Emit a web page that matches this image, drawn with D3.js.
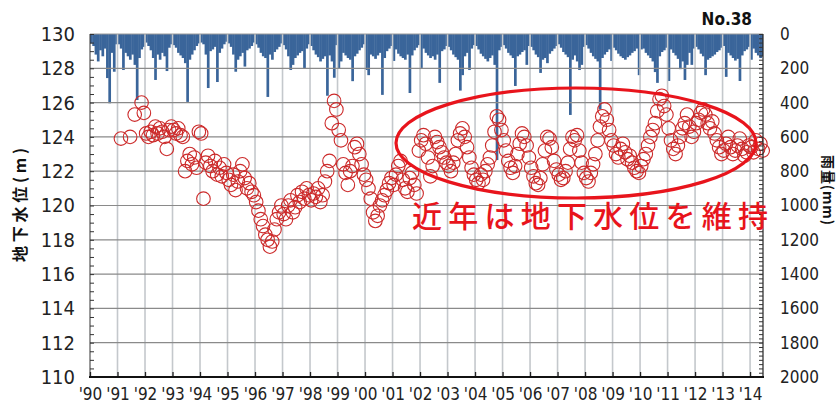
<!DOCTYPE html>
<html><head><meta charset="utf-8">
<script src="https://cdn.jsdelivr.net/npm/d3@7"></script>
<style>body{margin:0;background:#fff}svg{display:block}</style>
</head><body><svg id="c" width="839" height="409"></svg>
<script>
// ---- data ----
const yearLabels = ["'90","'91","'92","'93","'94","'95","'96","'97","'98","'99","'00","'01","'02","'03","'04","'05","'06","'07","'08","'09","'10","'11","'12","'13","'14"];
const levelTicks = [110,112,114,116,118,120,122,124,126,128,130];
const rainTicks = [0,200,400,600,800,1000,1200,1400,1600,1800,2000];

// monthly rainfall (mm), Jan..Dec
const rain1990 = [55,70,120,160,95,130,85,257,404,110,220,60];
const rain1991 = [60,85,210,110,130,150,120,180,385,140,90,75];
const rain1992 = [50,70,95,140,268,120,150,110,130,216,80,60];
const rain1993 = [65,80,110,125,140,170,396,150,120,95,70,55];
const rain1994 = [50,60,120,315,100,90,75,280,110,85,60,45];
const rain1995 = [55,75,120,220,150,130,110,190,95,85,70,50];
const rain1996 = [60,80,110,130,140,367,120,150,105,90,75,55];
const rain1997 = [65,90,130,210,180,140,125,110,100,200,85,60];
const rain1998 = [70,95,120,135,160,145,130,360,125,160,255,65];
const rain1999 = [200,160,110,125,140,150,275,130,115,95,80,60];
const rain2000 = [210,240,120,130,145,125,110,355,140,100,85,70];
const rain2001 = [157,90,115,130,140,150,120,344,125,95,80,65];
const rain2002 = [198,85,110,125,140,130,150,120,285,100,90,70];
const rain2003 = [75,95,120,135,150,330,240,130,110,210,85,65];
const rain2004 = [70,90,115,130,145,160,140,125,180,735,95,75];
const rain2005 = [65,85,110,125,140,303,130,120,105,95,180,70];
const rain2006 = [75,95,120,135,227,150,140,170,115,100,85,70];
const rain2007 = [60,80,105,120,135,472,150,125,160,210,180,75];
const rain2008 = [65,85,110,130,145,160,440,140,120,105,90,157];
const rain2009 = [80,95,115,130,140,150,135,125,110,100,85,240];
const rain2010 = [90,85,110,125,140,160,222,285,130,105,95,80];
const rain2011 = [274,90,110,125,145,205,160,268,180,110,180,85];
const rain2012 = [75,90,115,130,240,150,140,130,120,105,95,80];
const rain2013 = [70,250,110,125,140,155,145,274,125,100,90,75];
const rain2014 = [150,85,110,125,140,130];

// monthly groundwater level (m), Jan..Dec, null = no reading
const level1990 = [null,null,null,null,null,null,null,null,null,null,null,null];
const level1991 = [null,123.9,null,null,null,124.0,null,125.3,null,null,126.0,125.4];
const level1992 = [124.2,124.0,124.3,124.1,124.6,124.2,124.5,124.3,124.0,123.3,124.4,124.6];
const level1993 = [124.4,124.2,124.5,124.1,124.0,122.0,122.6,123.0,122.4,122.8,122.2,124.3];
const level1994 = [124.2,120.4,122.5,122.9,122.3,122.0,122.6,121.8,122.2,121.7,122.4,121.9];
const level1995 = [121.5,121.2,121.8,120.9,121.4,122.0,122.4,121.6,121.0,121.3,120.8,120.6];
const level1996 = [120.2,119.7,119.2,118.8,118.3,118.0,117.6,117.9,118.6,119.2,119.6,120.0];
const level1997 = [119.5,119.2,120.0,120.3,119.6,119.9,120.6,120.2,120.8,120.4,121.0,120.6];
const level1998 = [120.3,120.7,120.5,121.0,120.2,120.6,121.4,122.0,122.6,124.8,126.1,125.6];
const level1999 = [124.4,123.8,122.4,121.9,121.2,122.0,122.3,123.4,123.6,123.0,122.4,121.8];
const level2000 = [121.5,121.0,120.4,119.6,119.1,119.4,120.0,120.3,120.6,120.9,121.3,121.6];
const level2001 = [121.2,121.8,122.3,122.6,121.5,121.0,120.8,121.6,121.9,121.2,120.7,123.2];
const level2002 = [123.8,124.1,123.6,122.8,121.7,122.3,124.0,123.7,123.4,123.1,122.8,122.5];
const level2003 = [122.3,122.0,122.5,123.0,123.8,124.2,124.5,124.0,123.4,122.8,122.2,121.8];
const level2004 = [121.5,121.3,121.8,121.5,122.0,122.4,122.8,123.5,124.3,125.2,125.0,124.4];
const level2005 = [123.8,123.2,122.6,122.2,121.9,122.3,123.0,123.6,124.2,124.0,123.5,122.8];
const level2006 = [122.2,121.7,121.3,121.2,121.6,122.4,123.2,124.0,123.9,123.4,122.6,122.1];
const level2007 = [121.8,121.5,121.6,122.0,122.5,123.3,124.0,123.8,124.1,123.2,122.5,121.9];
const level2008 = [121.6,121.4,121.9,122.4,123.0,123.8,124.6,125.2,125.6,125.0,124.4,123.8];
const level2009 = [123.5,123.0,122.8,123.3,123.6,123.1,122.7,122.9,122.5,122.2,122.0,121.9];
const level2010 = [122.3,122.7,123.0,123.5,124.0,124.4,124.8,125.5,126.2,126.4,125.8,125.3];
const level2011 = [124.5,123.8,123.3,123.0,123.5,124.0,124.5,124.8,125.3,124.6,124.0,124.3];
const level2012 = [124.8,125.0,125.4,125.6,125.3,124.8,124.5,124.9,124.2,123.8,123.4,123.0];
const level2013 = [123.2,123.6,124.0,123.4,123.0,123.2,123.5,123.9,123.3,122.9,123.1,123.5];
const level2014 = [123.4,123.1,123.8,123.3,123.6,123.2];

const stationLabel = "No.38";
const leftTitle = "地下水位(m)";
const rightTitle = "雨量(mm)";
const noteText = "近年は地下水位を維持";

// ---- build tables ----
const rainYears = [rain1990,rain1991,rain1992,rain1993,rain1994,rain1995,rain1996,rain1997,rain1998,rain1999,rain2000,rain2001,rain2002,rain2003,rain2004,rain2005,rain2006,rain2007,rain2008,rain2009,rain2010,rain2011,rain2012,rain2013,rain2014];
const levelYears = [level1990,level1991,level1992,level1993,level1994,level1995,level1996,level1997,level1998,level1999,level2000,level2001,level2002,level2003,level2004,level2005,level2006,level2007,level2008,level2009,level2010,level2011,level2012,level2013,level2014];
const rain = [], level = [];
rainYears.forEach((arr,i)=>arr.forEach((v,m)=>rain.push({t:1990+i+m/12, v})));
levelYears.forEach((arr,i)=>arr.forEach((v,m)=>{ if(v!=null) level.push({t:1990+i+(m+0.5)/12, v}); }));

// ---- layout ----
const L=90, R=763, T=34, B=377;
const svg = d3.select("#c");
const x = d3.scaleLinear().domain([1990, 2014.47]).range([L, R]);
const yL = d3.scaleLinear().domain([110,130]).range([B, T]);
const yR = d3.scaleLinear().domain([0,2000]).range([T, B]);
const narrow = "'Liberation Sans Narrow','Arial Narrow','DejaVu Sans Condensed',sans-serif";

svg.append("defs").append("clipPath").attr("id","pc")
  .append("rect").attr("x",L).attr("y",T).attr("width",R-L).attr("height",B-T);

// rain bars
const bw = x(1990+1/12)-x(1990);
svg.append("g").attr("clip-path","url(#pc)").selectAll("rect").data(rain).join("rect")
  .attr("x",d=>x(d.t)).attr("y",yR(0)).attr("width",bw+0.4)
  .attr("height",d=>yR(d.v)-yR(0)).attr("fill","#3a659a");

// grid
const grid = svg.append("g");
grid.selectAll("line.v").data(d3.range(1991,2015)).join("line")
  .attr("x1",d=>x(d)).attr("x2",d=>x(d)).attr("y1",T).attr("y2",B)
  .attr("stroke","#c4c8cc").attr("stroke-width",1.6);
grid.selectAll("line.h").data(levelTicks.slice(1,-1)).join("line")
  .attr("x1",L).attr("x2",R).attr("y1",d=>yL(d)).attr("y2",d=>yL(d))
  .attr("stroke","#8a8a8a").attr("stroke-width",1.2);

// level circles
svg.append("g").selectAll("circle").data(level).join("circle")
  .attr("cx",d=>x(d.t)).attr("cy",d=>yL(d.v)).attr("r",6.8)
  .attr("fill","none").attr("stroke","#cc2a2a").attr("stroke-width",1.1);

// frame
svg.append("line").attr("x1",L).attr("x2",R).attr("y1",T).attr("y2",T).attr("stroke","#9a9a9a");
svg.append("line").attr("x1",L).attr("x2",L).attr("y1",T).attr("y2",B).attr("stroke","#333").attr("stroke-width",1);
svg.append("line").attr("x1",R).attr("x2",R).attr("y1",T).attr("y2",B).attr("stroke","#222").attr("stroke-width",1.2);

// left minor ticks
svg.append("g").attr("transform",`translate(${L},0)`)
  .call(d3.axisRight(yL).tickValues(d3.range(110,130.01,0.5)).tickSize(4).tickFormat(""))
  .call(g=>{g.select(".domain").remove(); g.selectAll("line").attr("stroke","#333");});
// right minor ticks
svg.append("g").attr("transform",`translate(${R},0)`)
  .call(d3.axisLeft(yR).tickValues(d3.range(0,2001,25)).tickSize(4).tickFormat(""))
  .call(g=>{g.select(".domain").remove(); g.selectAll("line").attr("stroke","#333");});

// left labels
svg.append("g").attr("transform",`translate(${L-15},0)`)
  .call(d3.axisLeft(yL).tickValues(levelTicks).tickSize(0).tickFormat(d3.format("d")))
  .call(g=>{g.select(".domain").remove();
    g.selectAll("text").attr("x",0).attr("fill","#222").style("font-family",narrow).style("font-size","20px");});
// right labels
svg.append("g").attr("transform",`translate(${R+17},0)`)
  .call(d3.axisRight(yR).tickValues(rainTicks).tickSize(0).tickFormat(d3.format("d")))
  .call(g=>{g.select(".domain").remove();
    g.selectAll("text").attr("x",0).attr("fill","#222").style("font-family",narrow).style("font-size","17px");});
// bottom axis
svg.append("g").attr("transform",`translate(0,${B})`)
  .call(d3.axisTop(x).tickValues(d3.range(1990,2015)).tickSize(5).tickFormat(""))
  .call(g=>{g.select(".domain").remove(); g.selectAll("line").attr("stroke","#222").attr("stroke-width",1.3);});
svg.append("g").attr("transform",`translate(0,${B})`)
  .call(d3.axisBottom(x).tickValues(d3.range(1990,2015)).tickSize(0).tickFormat((d,i)=>yearLabels[i]))
  .call(g=>{g.select(".domain").remove();
    g.selectAll("text").attr("y",11).attr("fill","#222").style("font-family",narrow).style("font-size","17px");});
svg.append("line").attr("x1",L-1).attr("x2",R+1).attr("y1",B).attr("y2",B).attr("stroke","#111").attr("stroke-width",2.2);

// titles
svg.append("text").attr("transform","translate(26,205) rotate(-90)").attr("text-anchor","middle")
  .attr("textLength",114).attr("lengthAdjust","spacing")
  .style("font-family","'Noto Sans CJK JP',sans-serif").style("font-weight","bold").style("font-size","16px")
  .attr("fill","#111").text(leftTitle);
svg.append("text").attr("transform","translate(823,190) rotate(90)").attr("text-anchor","middle")
  .attr("textLength",70).attr("lengthAdjust","spacing")
  .style("font-family","'Noto Sans CJK JP',sans-serif").style("font-weight","bold").style("font-size","14px")
  .attr("fill","#111").text(rightTitle);
svg.append("text").attr("x",752).attr("y",25).attr("text-anchor","end")
  .style("font-family",narrow).style("font-weight","bold").style("font-size","17px")
  .attr("fill","#111").text(stationLabel);

// annotation
svg.append("ellipse").attr("cx",576).attr("cy",143).attr("rx",180).attr("ry",55)
  .attr("fill","none").attr("stroke","#e8141c").attr("stroke-width",3.2);
svg.append("text").attr("x",412).attr("y",227).attr("textLength",356).attr("lengthAdjust","spacing")
  .style("font-family","'Noto Sans CJK JP',sans-serif").style("font-size","30px").style("font-weight","500")
  .attr("fill","#e8141c").text(noteText);
</script></body></html>
